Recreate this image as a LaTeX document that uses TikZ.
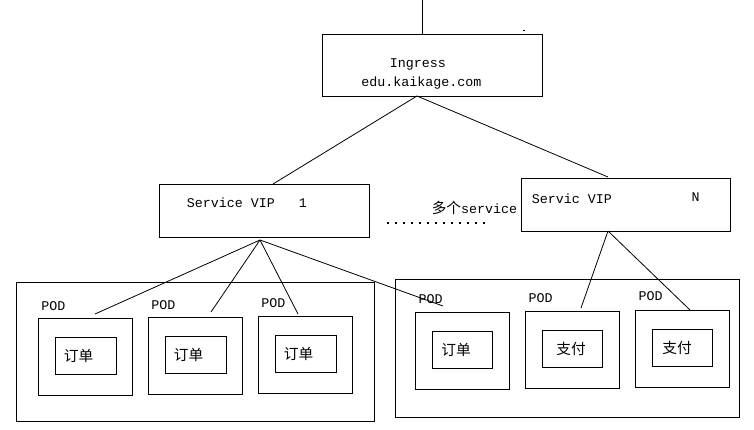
\documentclass[tikz,border=0pt]{standalone}
\usepackage{fontspec}
\setmonofont{Liberation Mono}
\newfontfamily\cjk{Noto Sans CJK SC}
\begin{document}
\begin{tikzpicture}[x=0.75pt,y=-0.75pt,
  every path/.style={line width=0.6pt},
  boxA/.style={draw, line width=0.75pt, inner sep=0pt, minimum width=#1},
  mono/.style={font=\fontsize{10}{12}\selectfont\ttfamily, inner sep=0pt},
  cjktext/.style={font=\fontsize{11}{13}\selectfont\cjk, inner sep=0pt},
  conn/.style={draw, line width=0.6pt}]
\useasboundingbox (0,0) rectangle (754,429);
% main boxes
\node[boxA=165pt, minimum height=46.5pt] (ingress) at (432,65) {};
\node[boxA=157.5pt, minimum height=39.75pt] (svc1) at (264,210.5) {};
\node[boxA=156.75pt, minimum height=39.75pt] (svcN) at (625.5,204.5) {};
\node[boxA=268.5pt, minimum height=104.25pt] (leftgrp) at (195,351.5) {};
\node[boxA=258pt, minimum height=103.5pt] (rightgrp) at (567,348) {};
% pods
\node[boxA=70.5pt, minimum height=57.75pt] (pod1) at (85,356.5) {};
\node[boxA=45.75pt, minimum height=27.75pt] (in1) at (85.5,355.5) {};
\node[boxA=70.5pt, minimum height=57.75pt] (pod2) at (195,355.5) {};
\node[boxA=45.75pt, minimum height=27.75pt] (in2) at (195.5,354.5) {};
\node[boxA=70.5pt, minimum height=57.75pt] (pod3) at (305,354.5) {};
\node[boxA=45.75pt, minimum height=27.75pt] (in3) at (305.5,353.5) {};
\node[boxA=70.5pt, minimum height=57.75pt] (pod4) at (462,350.5) {};
\node[boxA=45pt, minimum height=27.75pt] (in4) at (462,349.5) {};
\node[boxA=70.5pt, minimum height=57.75pt] (pod5) at (572,349.5) {};
\node[boxA=45pt, minimum height=27.75pt] (in5) at (572,348.5) {};
\node[boxA=70.5pt, minimum height=57.75pt] (pod6) at (682,348.5) {};
\node[boxA=45pt, minimum height=27.75pt] (in6) at (682,347.5) {};
% texts
\node[mono] (tIng) at (418,64) {Ingress};
\node[mono] (tUrl) at (421.5,83) {edu.kaikage.com};
\node[mono] (tS1) at (247,203) {Service VIP\ \ \ 1};
\node[mono] (tSN) at (572,199) {Servic VIP};
\node[mono] (tN) at (695.5,197) {N};
\node[inner sep=0pt] (tMulti) at (474.5,208) {{\fontsize{11}{13}\selectfont\cjk 多个}{\fontsize{10}{12}\selectfont\ttfamily service}};
\node[mono] (p1) at (53.5,306) {POD};
\node[mono] (p2) at (163.5,305) {POD};
\node[mono] (p3) at (273.5,303) {POD};
\node[mono] (p4) at (430.5,299) {POD};
\node[mono] (p5) at (540.5,298) {POD};
\node[mono] (p6) at (650.5,296) {POD};
\node[cjktext] (c1) at (78.5,355.5) {订单};
\node[cjktext] (c2) at (188.5,354.5) {订单};
\node[cjktext] (c3) at (298.5,353.5) {订单};
\node[cjktext] (c4) at (456,349.5) {订单};
\node[cjktext] (c5) at (571,348.5) {支付};
\node[cjktext] (c6) at (677,347.5) {支付};
% dotted row
\foreach \k in {0,...,12} {
  \fill ({388+8*\k-0.9},222.1) rectangle ++(1.8,1.8);
}
% connector points
\coordinate (top) at (422,0);
\coordinate (ia) at (417,96);
\coordinate (s1in) at (273,184);
\coordinate (sNin) at (608,177);
\coordinate (s1a) at (260,240);
\coordinate (e1) at (95,314);
\coordinate (e2) at (211,312);
\coordinate (e3) at (298,314);
\coordinate (e4) at (443,306);
\coordinate (sNa) at (608,231);
\coordinate (e5) at (581,308);
\coordinate (e6) at (690,310);
\coordinate (speck) at (523,30);
% connectors
\draw[conn] (top) -- (top |- ingress.north);
\draw[conn] (ia) -- (s1in);
\draw[conn] (ia) -- (sNin);
\draw[conn] (s1a) -- (e1);
\draw[conn] (s1a) -- (e2);
\draw[conn] (s1a) -- (e3);
\draw[conn] (s1a) -- (e4);
\draw[conn] (sNa) -- (e5);
\draw[conn] (sNa) -- (e6);
\fill (speck) rectangle ++(1.5,1);
\end{tikzpicture}
\end{document}
